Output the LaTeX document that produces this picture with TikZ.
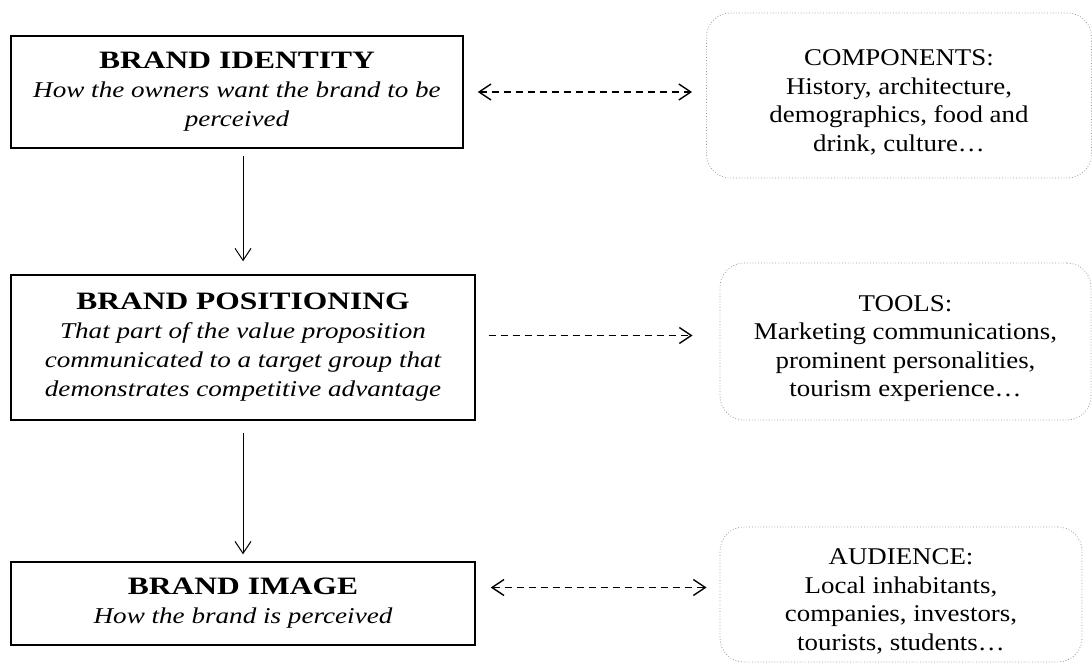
\documentclass[tikz,border=0pt]{standalone}
\usepackage{fontspec}
\setmainfont{Liberation Serif}
\newfontfamily\titlefont{Liberation Serif Bold}[FakeStretch=1.26]
\newfontfamily\descfont{Liberation Serif Italic}[FakeStretch=1.2]
\newfontfamily\notefont{Liberation Serif}[FakeStretch=1.12]
\newcommand\notegap{\rule{0pt}{15pt}}
\usetikzlibrary{arrows.meta}

\begin{document}
\begin{tikzpicture}[
  x=0.5pt, y=-0.5pt,
  >={Straight Barb[length=6pt,width=8pt]},
  stage/.style={draw, line width=0.75pt, align=center, inner sep=0pt,
                font=\descfont\fontsize{11.3}{14.5}\selectfont},
  note/.style={draw=gray!80, densely dotted, line width=0.4pt,
               rounded corners=12pt, align=center, inner sep=0pt,
               font=\notefont\fontsize{12}{14.3}\selectfont},
  flow/.style={->, line width=0.5pt},
  link/.style={line width=0.7pt, dash pattern=on 3.5pt off 2.5pt},
]
\useasboundingbox (0,0) rectangle (1092,664);

% ── left column: brand stages ────────────────────────────────────────────────
\node[stage, minimum width=226pt, minimum height=56pt] (ident) at (237,92) {
  {\titlefont\fontsize{12.5}{14.5}\selectfont BRAND IDENTITY}\\
  How the owners want the brand to be\\
  perceived
};

\node[stage, minimum width=232pt, minimum height=72.5pt] (posit) at (243,347.5) {
  {\titlefont\fontsize{12.5}{14.5}\selectfont BRAND POSITIONING}\\
  That part of the value proposition\\
  communicated to a target group that\\
  demonstrates competitive advantage
};

\node[stage, minimum width=232pt, minimum height=41.5pt] (image) at (243,603.5) {
  {\titlefont\fontsize{12.5}{14.5}\selectfont BRAND IMAGE}\\
  How the brand is perceived
};

% ── right column: notes ──────────────────────────────────────────────────────
\node[note, minimum width=192.5pt, minimum height=82.5pt] (comp) at (899,95.5) {
  \notegap COMPONENTS:\\
  History, architecture,\\
  demographics, food and\\
  drink, culture\ldots
};

\node[note, minimum width=185.5pt, minimum height=78.5pt] (tools) at (905.5,341.5) {
  \notegap TOOLS:\\
  Marketing communications,\\
  prominent personalities,\\
  tourism experience\ldots
};

\node[note, minimum width=181pt, minimum height=67.5pt] (aud) at (901,594.5) {
  \notegap AUDIENCE:\\
  Local inhabitants,\\
  companies, investors,\\
  tourists, students\ldots
};

% ── connectors ───────────────────────────────────────────────────────────────
\draw[flow, shorten <=3.5pt, shorten >=6.5pt] (ident.south -| posit.north) -- (posit.north);
\draw[flow, shorten <=6pt, shorten >=3.5pt] (posit.south) -- (image.north);

\draw[link, <->, shorten <=7pt, shorten >=7pt] (ident.east) -- (ident.east -| comp.west);
\draw[link, ->, shorten <=6.5pt, shorten >=13.5pt]
  ([yshift=6pt]posit.east) -- ([yshift=6pt]posit.east -| tools.west);
\draw[link, <->, shorten <=7.5pt, shorten >=6.5pt]
  ([yshift=8pt]image.east) -- ([yshift=8pt]image.east -| aud.west);

\end{tikzpicture}
\end{document}
